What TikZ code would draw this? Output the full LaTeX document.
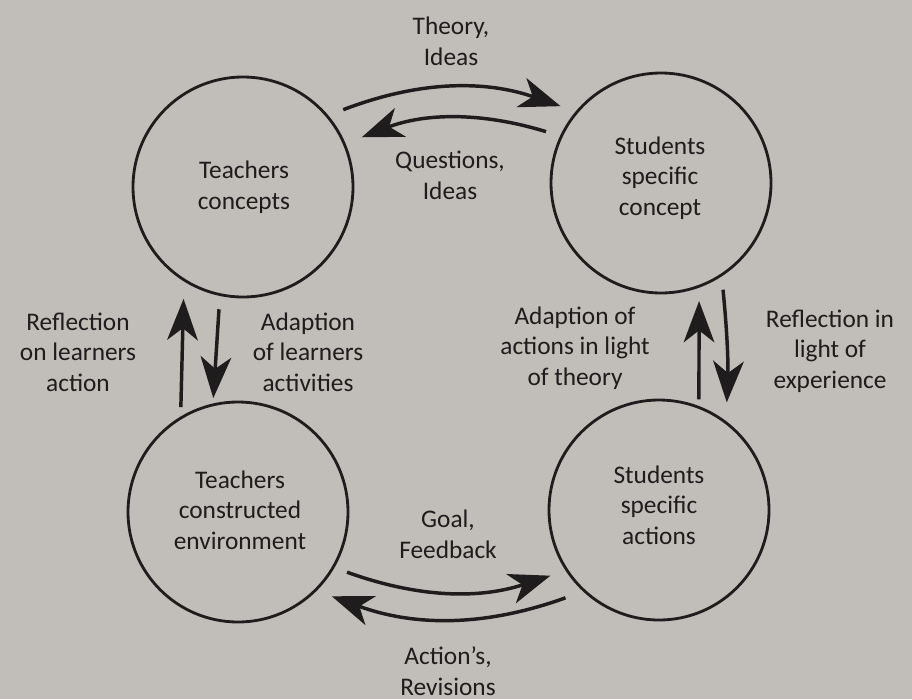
\documentclass[tikz,border=0pt]{standalone}
\usepackage{fontspec}
\setmainfont{Carlito}
\usepackage{xcolor}
\usetikzlibrary{arrows.meta}
\definecolor{paper}{RGB}{193,190,185}
\definecolor{ink}{RGB}{30,28,28}
\tikzset{
  stage/.style={
    circle,draw=ink,line width=2.1pt,
    minimum size=165pt,inner sep=0pt,
  },
  note/.style={
    align=center,text=ink,
    font=\fontsize{19}{23}\selectfont,
  }
}

\begin{document}
\begin{tikzpicture}[x=0.75pt,y=-0.75pt]
                    \fill[paper] (0,0) rectangle (912,699);
                    \begin{scope}[every node/.style={stage}]
                        \node (tc) at (243,187) {};
                        \node (sc) at (661,183) {};
                        \node (te) at (238,512) {};
                        \node (sa) at (659,510) {};
                    \end{scope}
                    \begin{scope}[every node/.style={note}]
                        \node (tctext) at (244,187) {Teachers\\concepts};
                        \node (sctext) at (660,178) {Students\\specific\\concept};
                        \node (tetext) at (240,510) {Teachers\\constructed\\environment};
                        \node (satext) at (659,505) {Students\\specific\\actions};
                        \node (theory) at (451,41) {Theory,\\Ideas};
                        \node (questions) at (450,175) {Questions,\\Ideas};
                        \node (reflearn) at (78,352) {Reflection\\on learners\\action};
                        \node (adlearn) at (308,352) {Adaption\\of learners\\activities};
                        \node (adtheory) at (575,348) {Adaption of\\actions in light\\of theory};
                        \node (refexp) at (830,351) {Reflection in\\light of\\experience};
                        \node (goal) at (448,534) {Goal,\\Feedback};
                        \node (revisions) at (448,671) {Action's,\\Revisions};
                    \end{scope}
                    \begin{scope}[>={Stealth[length=31pt,width=23pt,inset=9pt]},every edge/.style={draw=ink,line width=2.6pt}]
                        \path [->] (tc.40) edge[bend left=20,shorten <=12pt,shorten >=12pt] (sc.140);
                        \path [->] (sc.155) edge[bend right=19,shorten <=11pt,shorten >=13pt] (tc.23);
                        \path [->] (te.121) edge[shorten <=7pt,shorten >=13pt] (tc.238);
                        \path [->] (tc.258) edge[shorten <=10pt,shorten >=4pt] (te.103);
                        \path [->] (sa.69) edge[shorten <=5pt,shorten >=10pt] (sc.290);
                        \path [->] (sc.303) edge[bend left=4,shorten <=10pt,shorten >=14pt] (sa.53);
                        \path [->] (te.330) edge[bend right=19,shorten <=10pt,shorten >=12pt] (sa.213);
                        \path [->] (sa.227) edge[bend left=20,shorten <=14pt,shorten >=12pt] (te.315);
                    \end{scope}
                \end{tikzpicture}
\end{document}
